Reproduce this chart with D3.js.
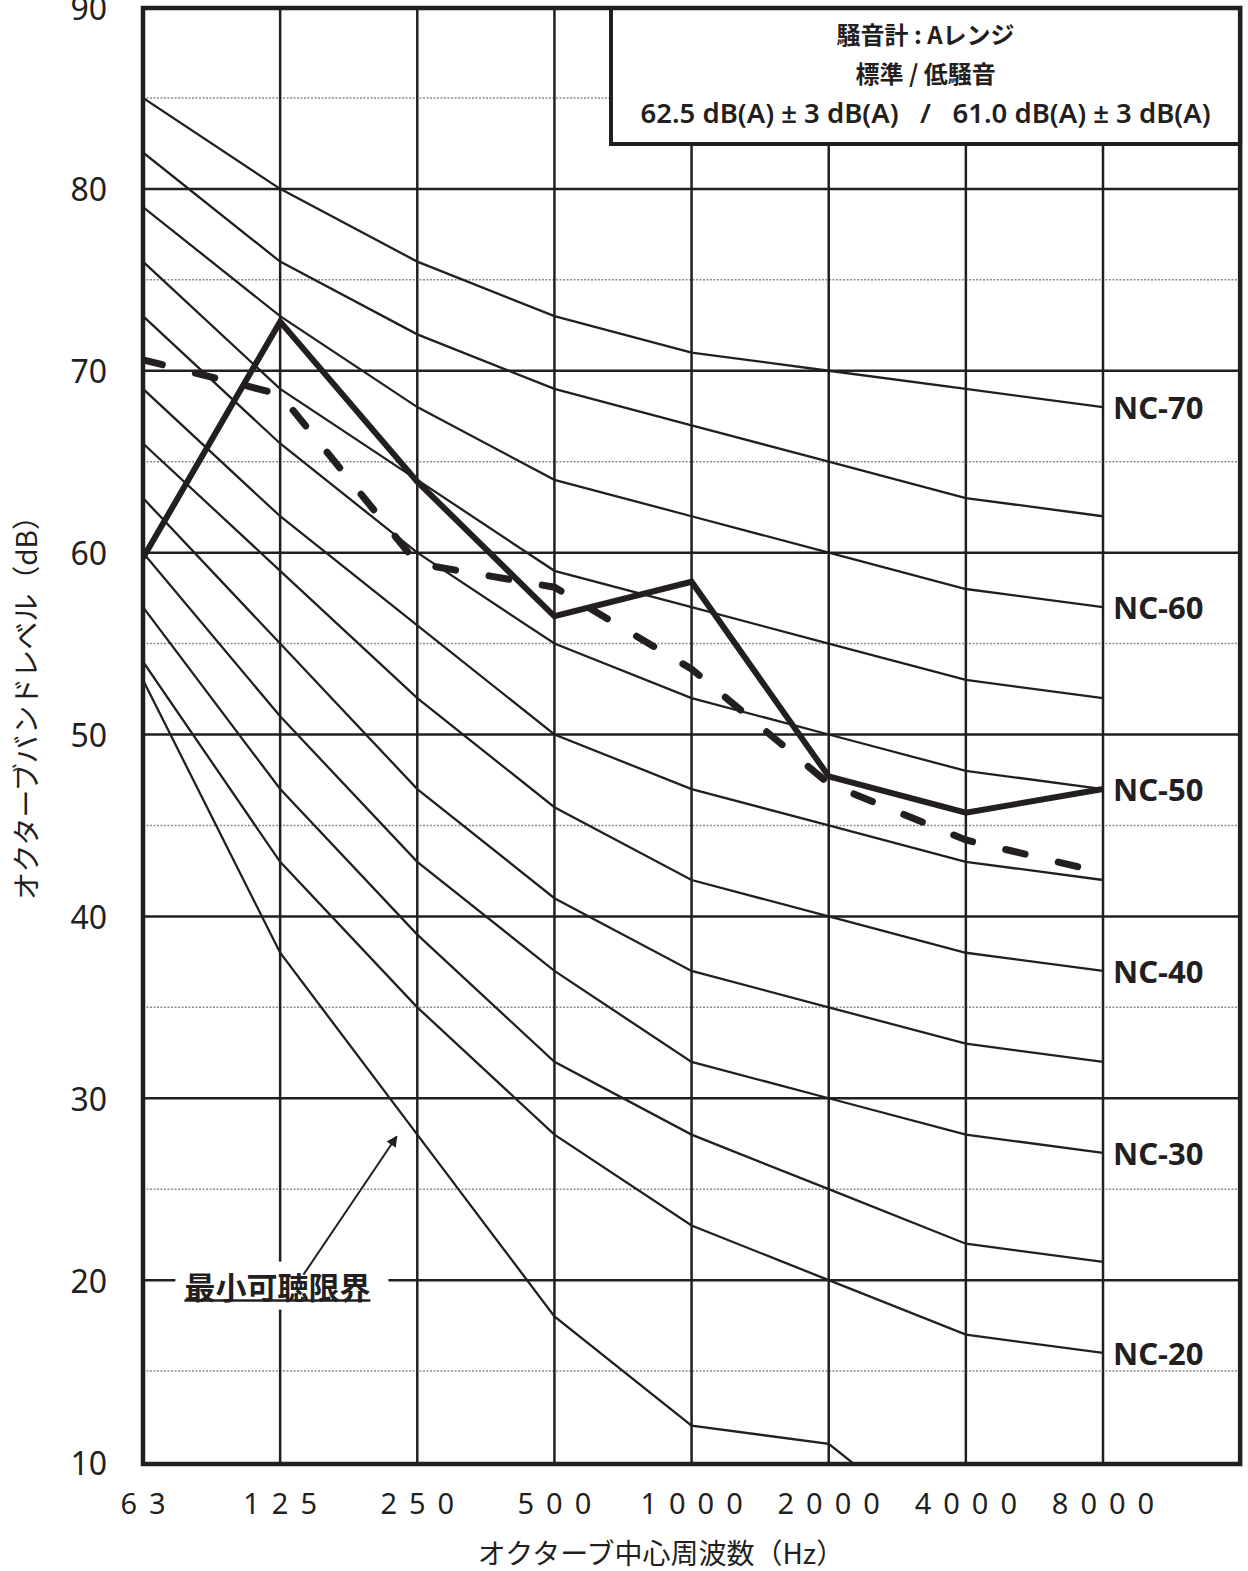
<!DOCTYPE html>
<html lang="ja">
<head>
<meta charset="utf-8">
<title>NC曲線</title>
<script src="https://cdn.jsdelivr.net/npm/d3@7"></script>
<style>
  body { margin: 0; background: #fff; }
  svg { display: block; font-family: "Noto Sans", "Noto Sans CJK JP", sans-serif; }
  .grid-minor { stroke: #8c8c8c; stroke-width: 1.4; stroke-dasharray: 2 1.5; }
  .grid-major { stroke: #231f20; stroke-width: 2.5; }
  .grid-vert { stroke: #231f20; stroke-width: 2.5; }
  .nc-line { fill: none; stroke: #231f20; stroke-width: 2.3; }
  .measured { fill: none; stroke: #231f20; stroke-width: 6; stroke-linejoin: miter; }
  .measured--low { stroke-width: 7; stroke-dasharray: 20 34; stroke-linecap: round; }
  .frame { fill: none; stroke: #231f20; stroke-width: 4.5; }
  .tick-y { font-size: 32px; fill: #231f20; }
  .tick-x { font-size: 29px; fill: #231f20; letter-spacing: 12px; }
  .axis-title { font-family: "Noto Sans CJK JP", sans-serif; font-size: 28px; fill: #231f20; }
  .nc-label { font-size: 31px; font-weight: 700; fill: #231f20; }
  .legend-box { fill: #fff; stroke: #231f20; stroke-width: 4; }
  .legend-text { font-family: "Noto Sans CJK JP", sans-serif; font-weight: 700; font-size: 24px; fill: #231f20; }
  .legend-values { font-family: "Noto Sans", sans-serif; font-weight: 600; font-size: 27.5px; fill: #231f20; }
  .note-text { font-family: "Noto Sans CJK JP", sans-serif; font-weight: 700; font-size: 31px; fill: #231f20; }
</style>
</head>
<body>
<svg id="chart" width="1248" height="1571"></svg>
<script>
// オクターブバンド中心周波数
const frequencies = ["63", "125", "250", "500", "1000", "2000", "4000", "8000"];

const yTicks = [10, 20, 30, 40, 50, 60, 70, 80, 90];
const yMinorTicks = [15, 25, 35, 45, 55, 65, 75, 85];

// NC曲線（63Hz〜8000Hz）
const ncNames = ["NC-70", "NC-65", "NC-60", "NC-55", "NC-50", "NC-45", "NC-40", "NC-35", "NC-30", "NC-25", "NC-20"];
const ncValues = [
  [85, 80, 76, 73, 71, 70, 69, 68],
  [82, 76, 72, 69, 67, 65, 63, 62],
  [79, 73, 68, 64, 62, 60, 58, 57],
  [76, 69, 64, 59, 57, 55, 53, 52],
  [73, 66, 60, 55, 52, 50, 48, 47],
  [69, 62, 56, 50, 47, 45, 43, 42],
  [66, 59, 52, 46, 42, 40, 38, 37],
  [63, 55, 47, 41, 37, 35, 33, 32],
  [60, 51, 43, 37, 32, 30, 28, 27],
  [57, 47, 39, 32, 28, 25, 22, 21],
  [54, 43, 35, 28, 23, 20, 17, 16],
];
const labelledNc = ["NC-70", "NC-60", "NC-50", "NC-40", "NC-30", "NC-20"];

// 最小可聴限界（4000Hz 以降は枠外）
const thresholdValues = [53, 38, 28, 18, 12, 11, 5];

// 測定値
const standardValues = [59.7, 72.7, 63.9, 56.5, 58.4, 47.7, 45.7, 47.0];
const lowNoiseValues = [70.6, 68.7, 59.4, 58.1, 53.6, 47.3, 44.2, 42.4];

const legendLines = ["騒音計 : Aレンジ", "標準 / 低騒音"];
const legendValues = "62.5 dB(A) ± 3 dB(A)   /   61.0 dB(A) ± 3 dB(A)";

// 注記: [周波数インデックス, dB]
const thresholdNote = { label: "最小可聴限界", at: [0.98, 19.7], arrowFrom: [1.17, 20.3], arrowTo: [1.85, 27.9] };

const xTitle = "オクターブ中心周波数（Hz）";
const yTitle = "オクターブバンドレベル（dB）";

const svg = d3.select("#chart");
const plotLeft = 143;
const lastX = 1103;
const plotTop = 7;
const plotBottom = 1462;

const x = d3.scalePoint().domain(frequencies).range([plotLeft, lastX]);
const plotRight = lastX + x.step();
const xi = d3.scaleLinear().domain([0, frequencies.length - 1]).range([plotLeft, lastX]);
const y = d3.scaleLinear().domain([10, 90]).range([plotBottom, plotTop]);

const defs = svg.append("defs");
defs.append("clipPath").attr("id", "plot-clip")
  .append("rect").attr("x", plotLeft).attr("y", plotTop)
  .attr("width", plotRight - plotLeft).attr("height", plotBottom - plotTop);
defs.append("marker")
  .attr("id", "arrow-head")
  .attr("viewBox", "0 0 10 10")
  .attr("refX", 9).attr("refY", 5)
  .attr("markerWidth", 5.5).attr("markerHeight", 5.5)
  .attr("markerUnits", "strokeWidth")
  .attr("orient", "auto")
  .append("path").attr("d", "M0,0 L10,5 L0,10 z").attr("fill", "#231f20");

// グリッド
svg.append("g").selectAll("line").data(yMinorTicks).join("line")
  .attr("class", "grid-minor")
  .attr("x1", plotLeft).attr("x2", plotRight)
  .attr("y1", (d) => y(d)).attr("y2", (d) => y(d));

svg.append("g").selectAll("line").data(yTicks.slice(1, -1)).join("line")
  .attr("class", "grid-major")
  .attr("x1", plotLeft).attr("x2", plotRight)
  .attr("y1", (d) => y(d)).attr("y2", (d) => y(d));

svg.append("g").selectAll("line").data(frequencies.slice(1)).join("line")
  .attr("class", "grid-vert")
  .attr("x1", (d) => x(d)).attr("x2", (d) => x(d))
  .attr("y1", plotTop).attr("y2", plotBottom);

const line = d3.line().x((d, i) => xi(i)).y((d) => y(d));

const plot = svg.append("g").attr("clip-path", "url(#plot-clip)");

plot.selectAll(".nc-line").data(ncValues).join("path")
  .attr("class", "nc-line")
  .attr("d", line);

plot.append("path").datum(thresholdValues)
  .attr("class", "nc-line")
  .attr("d", line);

plot.append("path").datum(lowNoiseValues)
  .attr("class", "measured measured--low")
  .attr("d", line);

plot.append("path").datum(standardValues)
  .attr("class", "measured")
  .attr("d", line);

// NC ラベル
svg.append("g").selectAll("text").data(labelledNc).join("text")
  .attr("class", "nc-label")
  .attr("x", x("8000") + 10)
  .attr("y", (d) => y(ncValues[ncNames.indexOf(d)][frequencies.length - 1]))
  .attr("dominant-baseline", "central")
  .text((d) => d);

// 凡例ボックス
const box = svg.append("g");
box.append("rect").attr("class", "legend-box")
  .attr("x", 611).attr("y", plotTop + 1).attr("width", plotRight - 611).attr("height", 136);
const boxCx = (611 + plotRight) / 2;
box.selectAll(".legend-text").data(legendLines).join("text")
  .attr("class", "legend-text")
  .attr("x", boxCx)
  .attr("y", (d, i) => 33 + i * 39)
  .attr("text-anchor", "middle")
  .attr("dominant-baseline", "central")
  .text((d) => d);
box.append("text").attr("class", "legend-values")
  .attr("x", boxCx).attr("y", 112)
  .attr("text-anchor", "middle")
  .attr("dominant-baseline", "central")
  .style("white-space", "pre")
  .text(legendValues);

// 最小可聴限界の注記
const note = svg.append("g");
note.append("rect")
  .attr("x", xi(thresholdNote.at[0]) - 102).attr("y", y(thresholdNote.at[1]) - 24)
  .attr("width", 213).attr("height", 48)
  .attr("fill", "#fff");
note.append("line")
  .attr("x1", xi(thresholdNote.arrowFrom[0])).attr("y1", y(thresholdNote.arrowFrom[1]))
  .attr("x2", xi(thresholdNote.arrowTo[0])).attr("y2", y(thresholdNote.arrowTo[1]))
  .attr("stroke", "#231f20").attr("stroke-width", 2)
  .attr("marker-end", "url(#arrow-head)");
const noteText = note.append("text").attr("class", "note-text")
  .attr("x", xi(thresholdNote.at[0])).attr("y", y(thresholdNote.at[1]))
  .attr("text-anchor", "middle")
  .attr("dominant-baseline", "central")
  .text(thresholdNote.label);
const nb = noteText.node().getBBox();
note.append("line")
  .attr("x1", nb.x).attr("x2", nb.x + nb.width)
  .attr("y1", y(thresholdNote.at[1]) + 15).attr("y2", y(thresholdNote.at[1]) + 15)
  .attr("stroke", "#231f20").attr("stroke-width", 2.5);

// 枠
svg.append("rect").attr("class", "frame")
  .attr("x", plotLeft).attr("y", plotTop + 1)
  .attr("width", plotRight - plotLeft).attr("height", plotBottom - plotTop + 1);

// 目盛ラベル
svg.append("g").selectAll("text").data(yTicks).join("text")
  .attr("class", "tick-y")
  .attr("x", 107)
  .attr("y", (d) => y(d))
  .attr("text-anchor", "end")
  .attr("dominant-baseline", "central")
  .text((d) => d);

svg.append("g").selectAll("text").data(frequencies).join("text")
  .attr("class", "tick-x")
  .attr("x", (d) => x(d))
  .attr("dx", 6)
  .attr("y", 1514)
  .attr("text-anchor", "middle")
  .text((d) => d);

svg.append("text").attr("class", "axis-title")
  .attr("x", 661).attr("y", 1564)
  .attr("text-anchor", "middle")
  .text(xTitle);

svg.append("text").attr("class", "axis-title")
  .attr("transform", "translate(25, 701) rotate(-90)")
  .attr("text-anchor", "middle")
  .attr("dominant-baseline", "central")
  .text(yTitle);
</script>
</body>
</html>
